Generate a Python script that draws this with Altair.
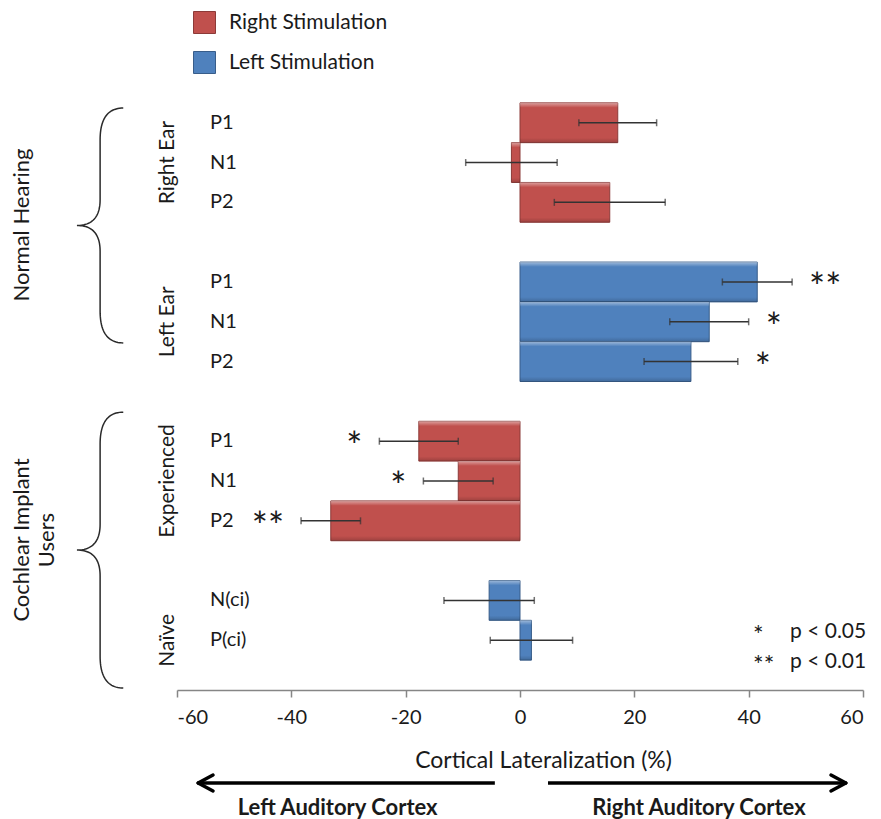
import altair as alt
import numpy as np
import pandas as pd

# ---------------- data ----------------
labels = ["P1", "N1", "P2", "P1", "N1", "P2", "P1", "N1", "P2", "N(ci)", "P(ci)"]
groups = ["Right Ear"] * 3 + ["Left Ear"] * 3 + ["Experienced"] * 3 + ["Naïve"] * 2
stim = (["Right Stimulation"] * 3 + ["Left Stimulation"] * 3
        + ["Right Stimulation"] * 3 + ["Left Stimulation"] * 2)
values = [17.1, -1.5, 15.7, 41.5, 33.1, 29.9, -17.7, -10.8, -33.1, -5.4, 2.0]
errors = [6.8, 8.0, 9.7, 6.1, 6.9, 8.2, 6.9, 6.1, 5.2, 7.9, 7.2]
sig = ["", "", "", "**", "*", "*", "*", "*", "**", "", ""]

stim_names = ["Right Stimulation", "Left Stimulation"]
fills = ["#C0504D", "#4F81BD"]
strokes = ["#8C3A38", "#385D8A"]

super_groups = ["Normal Hearing", "Cochlear Implant Users"]
brace_top = [-0.37, 7.27]
brace_bottom = [5.53, 14.2]

x_ticks = [-60, -40, -20, 0, 20, 40, 60]

# row index: one empty slot between sub-groups
rows = []
r = 0
prev = None
for g in groups:
    if prev is not None and g != prev:
        r += 1
    rows.append(r)
    r += 1
    prev = g

df = pd.DataFrame(dict(label=labels, group=groups, stim=stim, value=values,
                       err=errors, sig=sig, row=rows))
df["lo"] = df["value"] - df["err"]
df["hi"] = df["value"] + df["err"]

# sub-group label rows (middle member)
glab = []
for g in dict.fromkeys(groups):
    rr = [rw for gg, rw in zip(groups, rows) if gg == g]
    glab.append({"group": g, "row": rr[len(rr) // 2]})
gdf = pd.DataFrame(glab)


# brace outlines (decoration)
def brace_points(top, bottom, x_end=-69.4, x_tip=-77.5, rv_end=0.8, rv_tip=0.65, n=25):
    mid = (top + bottom) / 2
    xm = (x_end + x_tip) / 2
    pts = []

    def quad(p0, c, p1):
        t = np.linspace(0, 1, n)
        xq = (1 - t) ** 2 * p0[0] + 2 * (1 - t) * t * c[0] + t ** 2 * p1[0]
        yq = (1 - t) ** 2 * p0[1] + 2 * (1 - t) * t * c[1] + t ** 2 * p1[1]
        return list(zip(xq, yq))

    pts += quad((x_end, top), (xm, top), (xm, top + rv_end))
    pts += [(xm, mid - rv_tip)]
    pts += quad((xm, mid - rv_tip), (xm, mid), (x_tip, mid))
    pts += quad((x_tip, mid), (xm, mid), (xm, mid + rv_tip))
    pts += [(xm, bottom - rv_end)]
    pts += quad((xm, bottom - rv_end), (xm, bottom), (x_end, bottom))
    return pts


brows = []
for name, t, b in zip(super_groups, brace_top, brace_bottom):
    for i, (bx, by) in enumerate(brace_points(t, b)):
        brows.append({"brace": name, "i": i, "bx": bx, "by": by})
bdf = pd.DataFrame(brows)

# ---------------- styling ----------------
FONT = "Lato"
TXT = "#1a1a1a"
xs = alt.Scale(domain=[-60, 60], nice=False, zero=False)
ys = alt.Scale(domain=[-1.25, 14.25], reverse=True, nice=False, zero=False)

base = alt.Chart(df)

bars = base.mark_bar(strokeWidth=1).transform_calculate(
    y0="datum.row - 0.5", y1="datum.row + 0.5", zero="0"
).encode(
    x=alt.X("zero:Q", scale=xs, title="Cortical Lateralization (%)",
            axis=alt.Axis(values=x_ticks, grid=False, domainColor="#868686",
                          domainWidth=1.5, tickColor="#868686", tickWidth=1.5,
                          tickSize=7, labelFontSize=20, labelFont=FONT,
                          labelColor=TXT, labelPadding=10,
                          labelExpr="'' + datum.value",
                          titleFontSize=23, titleFont=FONT,
                          titleFontWeight="normal", titleColor=TXT,
                          titlePadding=22, titleX=366, titleAlign="center")),
    x2="value:Q",
    y=alt.Y("y0:Q", scale=ys, axis=None),
    y2="y1:Q",
    color=alt.Color("stim:N", scale=alt.Scale(domain=stim_names, range=fills),
                    legend=alt.Legend(title=None, orient="none", legendX=16,
                                      legendY=-62, symbolType="square",
                                      symbolSize=484, symbolStrokeWidth=1,
                                      labelFontSize=21, labelFont=FONT,
                                      labelColor=TXT, labelOffset=13,
                                      rowPadding=13, padding=0,
                                      symbolOpacity=1)),
    stroke=alt.Stroke("stim:N", scale=alt.Scale(domain=stim_names, range=strokes),
                      legend=None),
)

shade = alt.Gradient(
    gradient="linear", x1=0, x2=0, y1=0, y2=1,
    stops=[alt.GradientStop(color="rgba(255,255,255,0.45)", offset=0),
           alt.GradientStop(color="rgba(255,255,255,0.0)", offset=0.12),
           alt.GradientStop(color="rgba(0,0,0,0.0)", offset=0.88),
           alt.GradientStop(color="rgba(0,0,0,0.18)", offset=1)])
bevel = base.mark_bar(fill=shade, strokeWidth=0).transform_calculate(
    y0="datum.row - 0.5", y1="datum.row + 0.5", zero="0"
).encode(x=alt.X("zero:Q", scale=xs), x2="value:Q",
         y=alt.Y("y0:Q", scale=ys), y2="y1:Q")

err_rule = base.mark_rule(color="#333333", strokeWidth=1.5).encode(
    x=alt.X("lo:Q", scale=xs), x2="hi:Q", y=alt.Y("row:Q", scale=ys))
cap_lo = base.mark_tick(orient="vertical", size=7, thickness=1.5, color="#333333").encode(
    x=alt.X("lo:Q", scale=xs), y=alt.Y("row:Q", scale=ys))
cap_hi = base.mark_tick(orient="vertical", size=7, thickness=1.5, color="#333333").encode(
    x=alt.X("hi:Q", scale=xs), y=alt.Y("row:Q", scale=ys))

stars_pos = base.transform_filter("datum.sig != '' && datum.value > 0").mark_text(
    align="left", baseline="middle", dx=17, dy=8, fontSize=38, font=FONT, color=TXT
).encode(x=alt.X("hi:Q", scale=xs), y=alt.Y("row:Q", scale=ys), text="sig:N")
stars_neg = base.transform_filter("datum.sig != '' && datum.value < 0").mark_text(
    align="right", baseline="middle", dx=-17, dy=8, fontSize=38, font=FONT, color=TXT
).encode(x=alt.X("lo:Q", scale=xs), y=alt.Y("row:Q", scale=ys), text="sig:N")

ylabels = base.mark_text(align="left", baseline="middle", fontSize=20, font=FONT,
                         color=TXT).encode(
    x=alt.value(33), y=alt.Y("row:Q", scale=ys), text="label:N")

glabels = alt.Chart(gdf).mark_text(angle=270, align="center", baseline="middle",
                                   fontSize=21, font=FONT, color=TXT).encode(
    x=alt.value(-9), y=alt.Y("row:Q", scale=ys), text="group:N")

braces = alt.Chart(bdf).mark_line(color="#2a2a2a", strokeWidth=1.5).encode(
    x=alt.X("bx:Q", scale=xs), y=alt.Y("by:Q", scale=ys),
    detail="brace:N", order="i:Q")


def txt(s, x, y, size=19, angle=0, align="center", weight="normal"):
    return alt.Chart(pd.DataFrame({"t": [s]})).mark_text(
        fontSize=size, angle=angle, align=align, baseline="middle", font=FONT,
        fontWeight=weight, color=TXT).encode(text="t:N", x=x, y=y)


ann = [
    txt("Normal Hearing", alt.value(-155), alt.value(152), size=22, angle=270),
    txt("Cochlear Implant", alt.value(-155), alt.value(467), size=22, angle=270),
    txt("Users", alt.value(-130), alt.value(467), size=22, angle=270),
    txt("*", alt.value(576), alt.value(563), size=25, align="left"),
    txt("**", alt.value(576), alt.value(593), size=25, align="left"),
    txt("p < 0.05", alt.value(613), alt.value(559), size=21, align="left"),
    txt("p < 0.01", alt.value(613), alt.value(589), size=21, align="left"),
    txt("Left Auditory Cortex", alt.datum(-31.9), alt.value(735), size=22, weight="bold"),
    txt("Right Auditory Cortex", alt.datum(31.3), alt.value(735), size=22, weight="bold"),
]

one = pd.DataFrame({"k": [0]})
AY = 710
arrows = []
for xa, xb in [(-56.3, -4.4), (4.9, 57.0)]:
    arrows.append(alt.Chart(one).mark_rule(color="black", strokeWidth=3.5).encode(
        x=alt.datum(xa, scale=xs), x2=alt.datum(xb), y=alt.value(AY)))
for tip, back in [(-56.3, -53.7), (57.0, 54.4)]:
    for dy in (-8, 8):
        arrows.append(alt.Chart(one).mark_rule(color="black", strokeWidth=3.5,
                                               strokeCap="round").encode(
            x=alt.datum(tip, scale=xs), x2=alt.datum(back),
            y=alt.value(AY), y2=alt.value(AY + dy)))

chart = alt.layer(
    bars, bevel, err_rule, cap_lo, cap_hi, stars_pos, stars_neg, ylabels,
    glabels, braces, *ann, *arrows
).properties(
    width=686, height=617,
    autosize=alt.AutoSizeParams(type="none"),
    padding={"left": 169, "top": 65, "right": 5, "bottom": 132},
).configure(font=FONT).configure_view(stroke=None)

chart.save("out.html", embed_options={"renderer": "svg", "actions": False})
